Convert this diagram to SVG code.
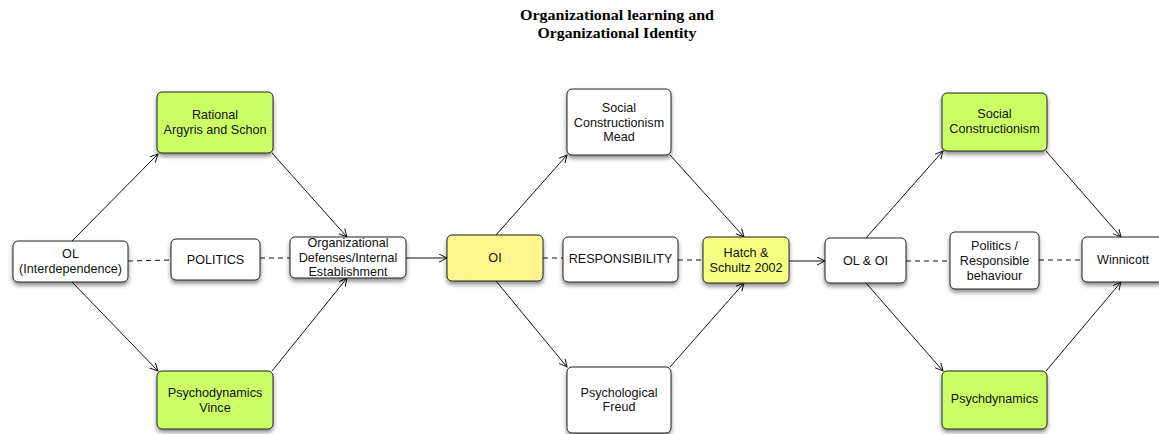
<svg xmlns="http://www.w3.org/2000/svg" width="1159" height="434" viewBox="0 0 1159 434">
<style>
.box{stroke:#222;stroke-width:1;filter:url(#sh)}
.w{fill:#ffffff}
.g{fill:#ccff66}
.y{fill:#fff68f}
.h{fill:#f4ff80}
text{font-family:"Liberation Sans",Arial,sans-serif;font-size:12.6px;fill:#111;text-anchor:middle}
.title{font-family:"Liberation Serif","Times New Roman",serif;font-size:14px;font-weight:bold;fill:#000}
.c{stroke:#111;stroke-width:1;fill:none}
.a{marker-end:url(#arr)}
.d{stroke-dasharray:5,4}
</style>
<defs>
<filter id="sh" x="-20%" y="-20%" width="140%" height="150%">
<feDropShadow dx="0" dy="3" stdDeviation="2" flood-color="#000" flood-opacity="0.45"/>
</filter>
<marker id="arr" markerUnits="userSpaceOnUse" markerWidth="10" markerHeight="10" refX="8" refY="4" orient="auto">
<path d="M0,0 L8,4 L0,8" fill="none" stroke="#111" stroke-width="1"/>
</marker>
</defs>
<rect width="1159" height="434" fill="#ffffff"/>
<g id="title">
<text class="title" x="617" y="20" textLength="194" lengthAdjust="spacingAndGlyphs">Organizational learning and</text>
<text class="title" x="617" y="38" textLength="159" lengthAdjust="spacingAndGlyphs">Organizational Identity</text>
</g>
<g id="connectors">
<line class="c a" x1="72" y1="241" x2="158" y2="154"/>
<line class="c a" x1="272" y1="153" x2="347" y2="237"/>
<line class="c a" x1="72" y1="282" x2="158" y2="371"/>
<line class="c a" x1="272" y1="371" x2="347" y2="278"/>
<line class="c a" x1="406" y1="258" x2="447" y2="258"/>
<line class="c a" x1="496" y1="235" x2="567" y2="155"/>
<line class="c a" x1="670" y1="155" x2="744" y2="237"/>
<line class="c a" x1="496" y1="281" x2="567" y2="367"/>
<line class="c a" x1="670" y1="367" x2="744" y2="283"/>
<line class="c a" x1="789" y1="261" x2="825" y2="261"/>
<line class="c a" x1="866" y1="238" x2="943" y2="151"/>
<line class="c a" x1="1046" y1="151" x2="1121" y2="237"/>
<line class="c a" x1="866" y1="283" x2="943" y2="371"/>
<line class="c a" x1="1046" y1="371" x2="1121" y2="282"/>
<line class="c d" x1="128" y1="261" x2="171" y2="260"/>
<line class="c d" x1="260" y1="258" x2="290" y2="258"/>
<line class="c d" x1="543" y1="258" x2="563" y2="258"/>
<line class="c d" x1="678" y1="260" x2="703" y2="260"/>
<line class="c d" x1="906" y1="261" x2="950" y2="261"/>
<line class="c d" x1="1039" y1="260" x2="1082" y2="260"/>
</g>
<g id="n_ol"><rect class="box w" x="13" y="241" width="115" height="41" rx="5"/><text x="70.5" y="258">OL</text><text x="70.5" y="273">(Interdependence)</text></g>
<g id="n_rational"><rect class="box g" x="157" y="92" width="116" height="61" rx="5"/><text x="215" y="119">Rational</text><text x="215" y="134">Argyris and Schon</text></g>
<g id="n_politics"><rect class="box w" x="171" y="239" width="89" height="41" rx="5"/><text x="215.5" y="264">POLITICS</text></g>
<g id="n_orgdef"><rect class="box w" x="290" y="237" width="116" height="41" rx="5"/><text x="348" y="247">Organizational</text><text x="348" y="262">Defenses/Internal</text><text x="348" y="276">Establishment</text></g>
<g id="n_vince"><rect class="box g" x="157" y="371" width="116" height="58" rx="5"/><text x="215" y="397">Psychodynamics</text><text x="215" y="412">Vince</text></g>
<g id="n_oi"><rect class="box y" x="447" y="235" width="96" height="46" rx="5"/><text x="495" y="262">OI</text></g>
<g id="n_socmead"><rect class="box w" x="567" y="89" width="104" height="66" rx="5"/><text x="619" y="112">Social</text><text x="619" y="127">Constructionism</text><text x="619" y="141">Mead</text></g>
<g id="n_resp"><rect class="box w" x="563" y="237" width="115" height="45" rx="5"/><text x="620.5" y="263">RESPONSIBILITY</text></g>
<g id="n_hatch"><rect class="box h" x="703" y="237" width="86" height="46" rx="5"/><text x="746" y="257">Hatch &amp;</text><text x="746" y="272">Schultz 2002</text></g>
<g id="n_freud"><rect class="box w" x="567" y="367" width="104" height="66" rx="5"/><text x="619" y="397">Psychological</text><text x="619" y="411">Freud</text></g>
<g id="n_oloi"><rect class="box w" x="825" y="238" width="81" height="45" rx="5"/><text x="865.5" y="265">OL &amp; OI</text></g>
<g id="n_socc"><rect class="box g" x="942" y="93" width="105" height="58" rx="5"/><text x="994.5" y="118">Social</text><text x="994.5" y="133">Constructionism</text></g>
<g id="n_polresp"><rect class="box w" x="950" y="232" width="89" height="57" rx="5"/><text x="994.5" y="250">Politics /</text><text x="994.5" y="265">Responsible</text><text x="994.5" y="280">behaviour</text></g>
<g id="n_winn"><rect class="box w" x="1082" y="237" width="82" height="45" rx="5"/><text x="1123" y="264">Winnicott</text></g>
<g id="n_psychd"><rect class="box g" x="942" y="371" width="105" height="58" rx="5"/><text x="994.5" y="403">Psychdynamics</text></g>
</svg>
